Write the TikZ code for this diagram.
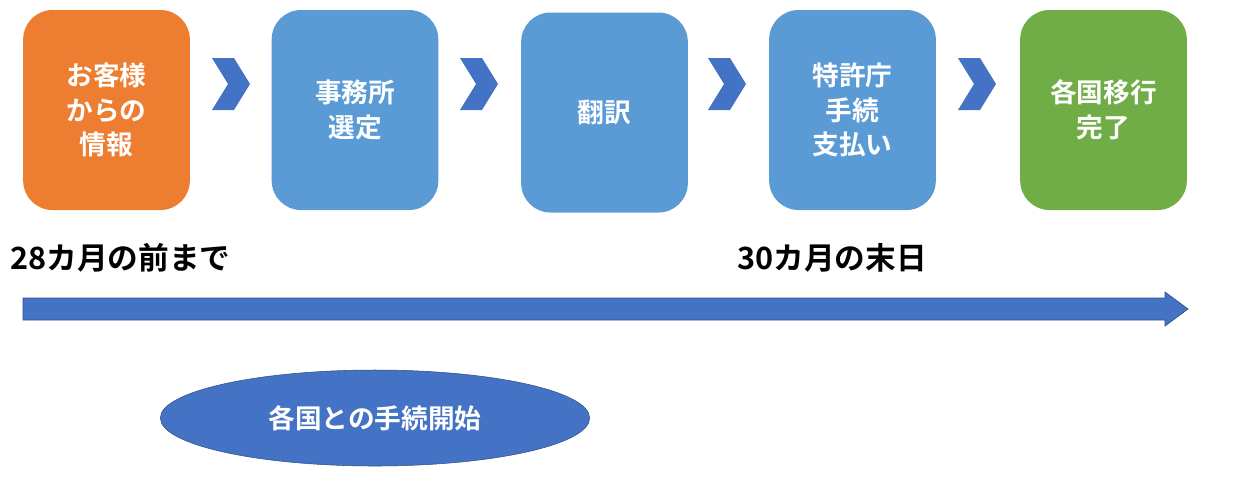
\documentclass[tikz,border=0pt]{standalone}
\usepackage{fontspec}
\setmainfont{Noto Sans CJK JP}[BoldFont={Noto Sans CJK JP Bold}]
\usetikzlibrary{shapes.geometric}
\definecolor{orng}{HTML}{ED7D31}
\definecolor{lblue}{HTML}{5B9BD5}
\definecolor{dblue}{HTML}{4472C4}
\definecolor{grn}{HTML}{70AD47}
\tikzset{
  stage/.style={rounded corners=22pt, minimum width=125pt, minimum height=150pt,
    text=white, font=\bfseries\fontsize{20}{26}\selectfont, align=center, inner sep=0pt},
  chev/.style={fill=dblue, draw=none}
}
\begin{document}
\begin{tikzpicture}[x=0.75pt,y=-0.75pt]
  \useasboundingbox (0,0) rectangle (1251,480);
  \node[stage, fill=orng] (s1) at (106.5,110) {お客様\\からの\\情報};
  \node[stage, fill=lblue] (s2) at (355,110) {事務所\\選定};
  \node[stage, fill=lblue] (s3) at (604.5,112.5) {翻訳};
  \node[stage, fill=lblue] (s4) at (852.5,110) {特許庁\\手続\\支払い};
  \node[stage, fill=grn] (s5) at (1103.5,110) {各国移行\\完了};
  % chevrons
  \foreach \x in {212,460,708,958} {
    \fill[chev] (\x,58) -- (\x+22,58) -- (\x+38,84) -- (\x+22,110) -- (\x,110) -- (\x+16,84) -- cycle;
  }
  \node[anchor=west, font=\bfseries\fontsize{23}{26}\selectfont, inner sep=0pt] (t1) at (10,258) {28カ月の前まで};
  \node[anchor=west, font=\bfseries\fontsize{23}{26}\selectfont, inner sep=0pt] (t2) at (737,258) {30カ月の末日};
  % time arrow
  \fill[dblue, draw=dblue!70!black, line width=0.5pt] (23,298) -- (1165,298) -- (1165,292) -- (1188,309) -- (1165,326) -- (1165,320) -- (23,320) -- cycle;
  \node[ellipse, fill=dblue, draw=dblue!70!black, minimum width=322pt, minimum height=72pt,
    text=white, font=\bfseries\fontsize{20}{24}\selectfont] (e) at (375,418) {各国との手続開始};
\end{tikzpicture}
\end{document}
